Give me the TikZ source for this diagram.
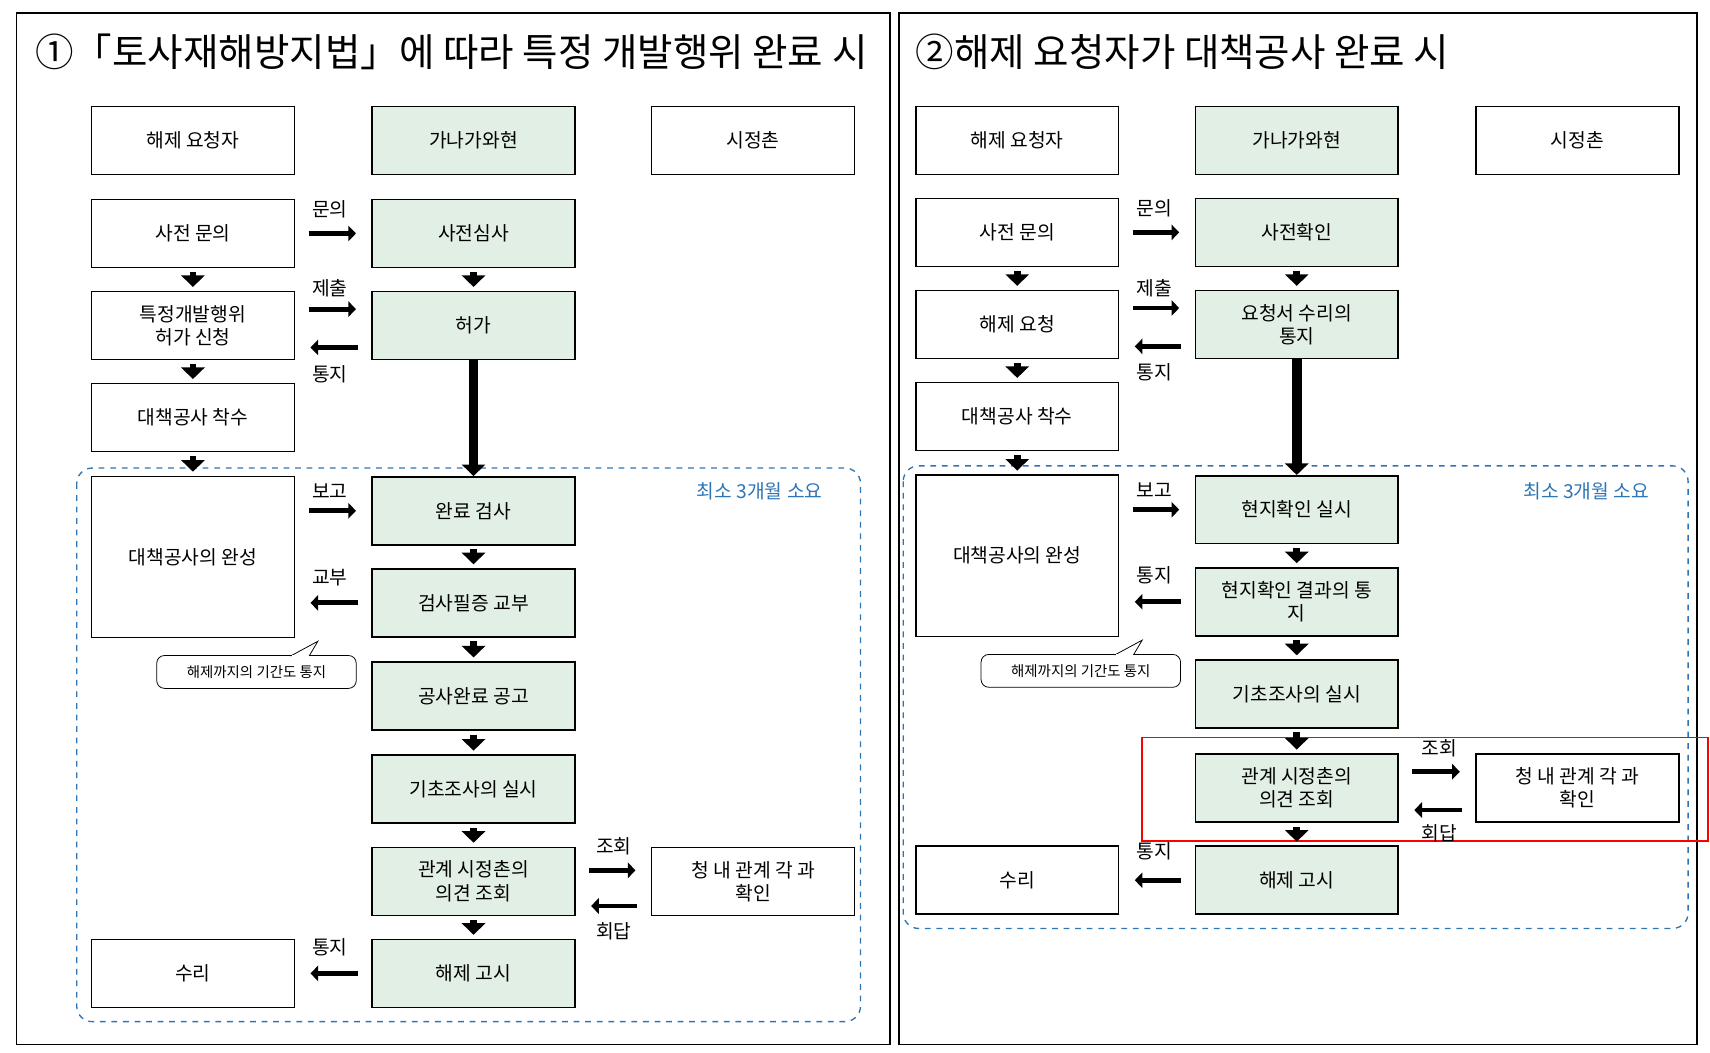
\documentclass[tikz,border=0pt]{standalone}
\usepackage{fontspec}
\setmainfont{Noto Sans CJK KR}
\usetikzlibrary{arrows.meta}
\definecolor{gfill}{HTML}{E2EFE4}
\definecolor{dblue}{HTML}{2E75B6}
\begin{document}
\begin{tikzpicture}[x=0.02cm,y=-0.02cm,
 box/.style={draw,line width=0.8pt,minimum width=3.7cm,minimum height=1.24cm,align=center,font=\fontsize{10}{12}\selectfont,inner sep=1pt},
 g/.style={box,fill=gfill},
 tall/.style={box,minimum height=2.94cm},
 dn/.style={line width=3.5pt,-{Triangle[length=6pt,width=12pt]},shorten <=2pt,shorten >=2pt},
 big/.style={line width=5pt,-{Triangle[length=6pt,width=12pt]}},
 ha/.style={line width=2.5pt,-{Triangle[length=4pt,width=8pt]},shorten <=7pt,shorten >=8pt},
 lab/.style={font=\fontsize{10}{12}\selectfont},
 call/.style={draw,rounded corners=4pt,font=\fontsize{7.5}{9}\selectfont,minimum width=3.64cm,minimum height=0.6cm,fill=white},
 dashbox/.style={draw=dblue,dashed,rounded corners=8pt,line width=0.7pt}]
\useasboundingbox (0,0) rectangle (1560,960);
% frames
\draw[line width=0.8pt] (15,12) rectangle (812,953);
\draw[line width=0.8pt] (820,12) rectangle (1548,953);
\node[anchor=west,font=\fontsize{20}{22}\selectfont,inner sep=0pt] (t1) at (32,47) {①「토사재해방지법」에 따라 특정 개발행위 완료 시};
\node[anchor=west,font=\fontsize{20}{22}\selectfont,inner sep=0pt] (t2) at (835,47) {②해제 요청자가 대책공사 완료 시};
% ---------- left
\draw[dashbox] (70,427) rectangle (785,932);
\node[text=dblue,lab] (m1) at (693,448) {최소 3개월 소요};
\node[box] (a0) at (176,128) {해제 요청자};
\node[g] (b0) at (432,128) {가나가와현};
\node[box] (c0) at (687,128) {시정촌};
\node[box] (a1) at (176,213) {사전 문의};
\node[g] (b1) at (432,213) {사전심사};
\node[box] (a2) at (176,297) {특정개발행위\\허가 신청};
\node[g] (b2) at (432,297) {허가};
\node[box] (a3) at (176,381) {대책공사 착수};
\node[tall] (a4) at (176,508) {대책공사의 완성};
\node[g] (b4) at (432,466) {완료 검사};
\node[g] (b5) at (432,550) {검사필증 교부};
\node[g] (b6) at (432,635) {공사완료 공고};
\node[g] (b7) at (432,720) {기초조사의 실시};
\node[g] (b8) at (432,804) {관계 시정촌의\\의견 조회};
\node[box] (c8) at (687,804) {청 내 관계 각 과\\확인};
\node[g] (b9) at (432,888) {해제 고시};
\node[box] (a9) at (176,888) {수리};
\node[call] (k1) at (234,613) {해제까지의 기간도 통지};
\draw[fill=white] (265,598.5) -- (290,585) -- (282,598.5);
\draw[white,line width=1pt] (266,598.5) -- (281,598.5);
\foreach \u/\v in {a1/a2,a2/a3,a3/a4,b1/b2,b4/b5,b5/b6,b6/b7,b7/b8,b8/b9} \draw[dn] (\u) -- (\v);
\draw[big] (b2.south) -- (b4.north);
\draw[ha] (a1.east) -- (b1.west); \node[lab] at (301,191) {문의};
\draw[ha] ([yshift=0.3cm]a2.east) -- ([yshift=0.3cm]b2.west); \node[lab] at (301,263) {제출};
\draw[ha] ([yshift=-0.4cm]b2.west) -- ([yshift=-0.4cm]a2.east); \node[lab] at (301,341) {통지};
\draw[ha] (a4.east |- b4.west) -- (b4.west); \node[lab] at (301,448) {보고};
\draw[ha] (b5.west) -- (a4.east |- b5.west); \node[lab] at (301,527) {교부};
\draw[ha] ([yshift=0.2cm]b8.east) -- ([yshift=0.2cm]c8.west); \node[lab] at (560,772) {조회};
\draw[ha] ([yshift=-0.45cm]c8.west) -- ([yshift=-0.45cm]b8.east); \node[lab] at (560,850) {회답};
\draw[ha] (b9.west) -- (a9.east); \node[lab] at (301,864) {통지};
% ---------- right
\draw[dashbox] (824,425) rectangle (1540,847);
\node[text=dblue,lab] (m2) at (1447,448) {최소 3개월 소요};
\node[box] (p0) at (928,128) {해제 요청자};
\node[g] (q0) at (1183,128) {가나가와현};
\node[box] (r0) at (1439,128) {시정촌};
\node[box] (p1) at (928,212) {사전 문의};
\node[g] (q1) at (1183,212) {사전확인};
\node[box] (p2) at (928,296) {해제 요청};
\node[g] (q2) at (1183,296) {요청서 수리의\\통지};
\node[box] (p3) at (928,380) {대책공사 착수};
\node[tall] (p4) at (928,507) {대책공사의 완성};
\node[g] (q4) at (1183,465) {현지확인 실시};
\node[g] (q5) at (1183,549) {현지확인 결과의 통\\지};
\node[g] (q6) at (1183,633) {기초조사의 실시};
\node[g] (q7) at (1183,719) {관계 시정촌의\\의견 조회};
\node[box] (r7) at (1439,719) {청 내 관계 각 과\\확인};
\node[g] (q8) at (1183,803) {해제 고시};
\node[box] (p8) at (928,803) {수리};
\node[call] (k2) at (986,612) {해제까지의 기간도 통지};
\draw[fill=white] (1017,597.5) -- (1042,584) -- (1034,597.5);
\draw[white,line width=1pt] (1018,597.5) -- (1033,597.5);
\draw[red,line width=0.8pt] (1042,673) rectangle (1558,767);
\foreach \u/\v in {p1/p2,p2/p3,p3/p4,q1/q2,q4/q5,q5/q6,q6/q7,q7/q8} \draw[dn] (\u) -- (\v);
\draw[big] (q2.south) -- (q4.north);
\draw[ha] (p1.east) -- (q1.west); \node[lab] at (1053,190) {문의};
\draw[ha] ([yshift=0.3cm]p2.east) -- ([yshift=0.3cm]q2.west); \node[lab] at (1053,263) {제출};
\draw[ha] ([yshift=-0.4cm]q2.west) -- ([yshift=-0.4cm]p2.east); \node[lab] at (1053,340) {통지};
\draw[ha] (p4.east |- q4.west) -- (q4.west); \node[lab] at (1053,447) {보고};
\draw[ha] (q5.west) -- (p4.east |- q5.west); \node[lab] at (1053,525) {통지};
\draw[ha] ([yshift=0.3cm]q7.east) -- ([yshift=0.3cm]r7.west); \node[lab] at (1313,683) {조회};
\draw[ha] ([yshift=-0.4cm]r7.west) -- ([yshift=-0.4cm]q7.east); \node[lab] at (1313,760) {회답};
\draw[ha] (q8.west) -- (p8.east); \node[lab] at (1053,777) {통지};
\end{tikzpicture}
\end{document}
